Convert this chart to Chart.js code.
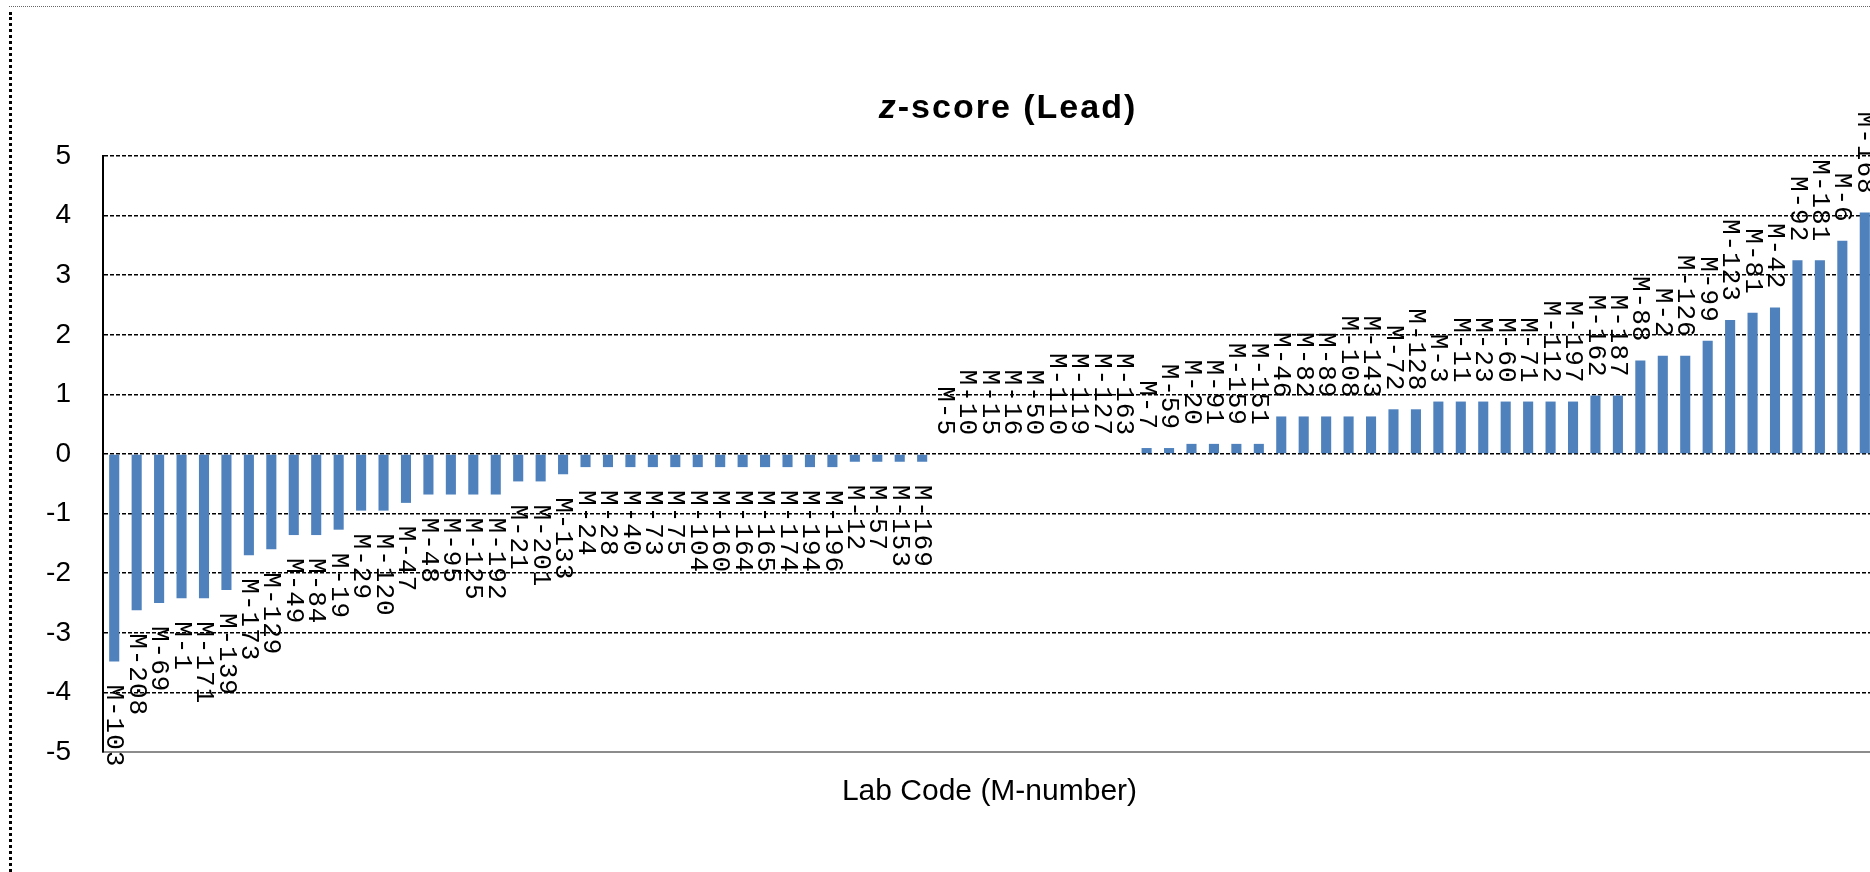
<!DOCTYPE html>
<html>
<head>
<meta charset="utf-8">
<script src="https://cdn.jsdelivr.net/npm/chart.js@4/dist/chart.umd.min.js"></script>
<style>
html, body { margin: 0; padding: 0; background: #fff; overflow: hidden; width: 1870px; height: 872px; }
#wrap { position: absolute; left: 0; top: 0; width: 2016px; height: 872px; }
#frameL { position: absolute; left: 9px; top: 12px; width: 0; height: 860px; border-left: 3px dotted #000; }
#frameT { position: absolute; left: 9px; top: 6px; width: 1861px; height: 0; border-top: 1px dotted #666; }
</style>
</head>
<body>
<div id="wrap"><canvas id="c" width="2016" height="872"></canvas></div>
<div id="frameL"></div>
<div id="frameT"></div>
<script>
// ---- data ----
const labCodes = [
  'M-103','M-208','M-69','M-1','M-171','M-139','M-173','M-129','M-49','M-84',
  'M-19','M-29','M-120','M-47','M-48','M-95','M-125','M-192','M-21','M-201',
  'M-133','M-24','M-28','M-40','M-73','M-75','M-104','M-160','M-164','M-165',
  'M-174','M-194','M-196','M-12','M-57','M-153','M-169',
  'M-5','M-10','M-15','M-16','M-50','M-110','M-119','M-127','M-163',
  'M-7','M-59','M-20','M-91','M-159','M-151',
  'M-46','M-82','M-89','M-108','M-143','M-72','M-128','M-3','M-11','M-23',
  'M-60','M-71','M-112','M-197','M-162','M-187','M-88','M-2','M-126','M-99',
  'M-123','M-81','M-42','M-92','M-181','M-6','M-168'
];
const zScores = [
  -3.48, -2.62, -2.50, -2.42, -2.42, -2.28, -1.70, -1.60, -1.36, -1.36,
  -1.27, -0.95, -0.95, -0.82, -0.68, -0.68, -0.68, -0.68, -0.46, -0.46,
  -0.34, -0.22, -0.22, -0.22, -0.22, -0.22, -0.22, -0.22, -0.22, -0.22,
  -0.22, -0.22, -0.22, -0.13, -0.13, -0.13, -0.13,
  0, 0, 0, 0, 0, 0, 0, 0, 0,
  0.10, 0.10, 0.17, 0.17, 0.17, 0.17,
  0.63, 0.63, 0.63, 0.63, 0.63, 0.75, 0.75, 0.88, 0.88, 0.88,
  0.88, 0.88, 0.88, 0.88, 0.98, 0.98, 1.57, 1.65, 1.65, 1.90,
  2.25, 2.37, 2.46, 3.25, 3.25, 3.58, 4.05
];
const yTickValues = [5, 4, 3, 2, 1, 0, -1, -2, -3, -4, -5];
const titleItalicPart = 'z';
const titleRest = '-score (Lead)';
const xAxisTitle = 'Lab Code (M-number)';

// ---- plugins ----
const barLabels = {
  id: 'barLabels',
  afterDatasetsDraw(chart, args, opts) {
    const ctx = chart.ctx;
    const meta = chart.getDatasetMeta(0);
    const vals = chart.data.datasets[0].data;
    ctx.save();
    ctx.font = opts.font;
    ctx.fillStyle = '#000';
    ctx.textBaseline = 'middle';
    try { ctx.letterSpacing = opts.spacing; } catch (e) {}
    meta.data.forEach((bar, i) => {
      const v = vals[i];
      const txt = chart.data.labels[i];
      ctx.save();
      if (v >= 0) {
        ctx.translate(bar.x, bar.y - opts.gapPos);
        ctx.rotate(Math.PI / 2);
        ctx.textAlign = 'right';
      } else {
        ctx.translate(bar.x, bar.y + opts.gapNeg);
        ctx.rotate(Math.PI / 2);
        ctx.textAlign = 'left';
      }
      ctx.fillText(txt, 0, 0);
      ctx.restore();
    });
    ctx.restore();
  }
};

const mixedTitle = {
  id: 'mixedTitle',
  afterDraw(chart, args, opts) {
    const ctx = chart.ctx;
    ctx.save();
    ctx.fillStyle = '#000';
    ctx.textBaseline = 'middle';
    ctx.textAlign = 'left';
    try { ctx.letterSpacing = opts.spacing; } catch (e) {}
    const f1 = 'italic bold ' + opts.size + 'px "Liberation Sans", Arial, sans-serif';
    const f2 = 'bold ' + opts.size + 'px "Liberation Sans", Arial, sans-serif';
    ctx.font = f1;
    const w1 = ctx.measureText(titleItalicPart).width;
    ctx.font = f2;
    const w2 = ctx.measureText(titleRest).width;
    const x = chart.width / 2 - (w1 + w2) / 2;
    const y = opts.y;
    ctx.font = f1;
    ctx.fillText(titleItalicPart, x, y);
    ctx.font = f2;
    ctx.fillText(titleRest, x + w1, y);
    ctx.restore();
  }
};

Chart.defaults.font.family = '"Liberation Sans", Arial, sans-serif';
Chart.defaults.color = '#000';

new Chart(document.getElementById('c'), {
  type: 'bar',
  data: {
    labels: labCodes,
    datasets: [{
      data: zScores,
      backgroundColor: '#4F81BD',
      borderWidth: 0,
      barPercentage: 0.45,
      categoryPercentage: 1.0
    }]
  },
  options: {
    responsive: false,
    animation: false,
    devicePixelRatio: 1,
    layout: { padding: { top: 156, right: 140, left: 0, bottom: 0 } },
    plugins: {
      legend: { display: false },
      tooltip: { enabled: false },
      title: { display: false },
      barLabels: { font: '26px "Liberation Mono", monospace', spacing: '1px', gapPos: 18, gapNeg: 23 },
      mixedTitle: { size: 34, y: 109, spacing: '2px' }
    },
    scales: {
      x: {
        grid: { display: false, drawTicks: false },
        ticks: { display: false },
        border: { display: true, color: '#8c8c8c', width: 2 },
        title: {
          display: true,
          text: xAxisTitle,
          font: { size: 30 },
          color: '#000',
          padding: { top: 0, bottom: 62 }
        },
        afterFit(scale) { scale.height = 120; }
      },
      y: {
        min: -5,
        max: 5,
        afterBuildTicks(scale) { scale.ticks = yTickValues.map(v => ({ value: v })); },
        ticks: { padding: 32, font: { size: 28 }, color: '#000' },
        grid: {
          drawTicks: false,
          lineWidth: 1.6,
          color: ctx => (ctx.tick && ctx.tick.value === -5) ? 'rgba(0,0,0,0)' : '#000'
        },
        border: { display: true, color: '#000', width: 2, dash: [4, 2] },
        afterFit(scale) { scale.width = 103; }
      }
    }
  },
  plugins: [barLabels, mixedTitle]
});
</script>
</body>
</html>
